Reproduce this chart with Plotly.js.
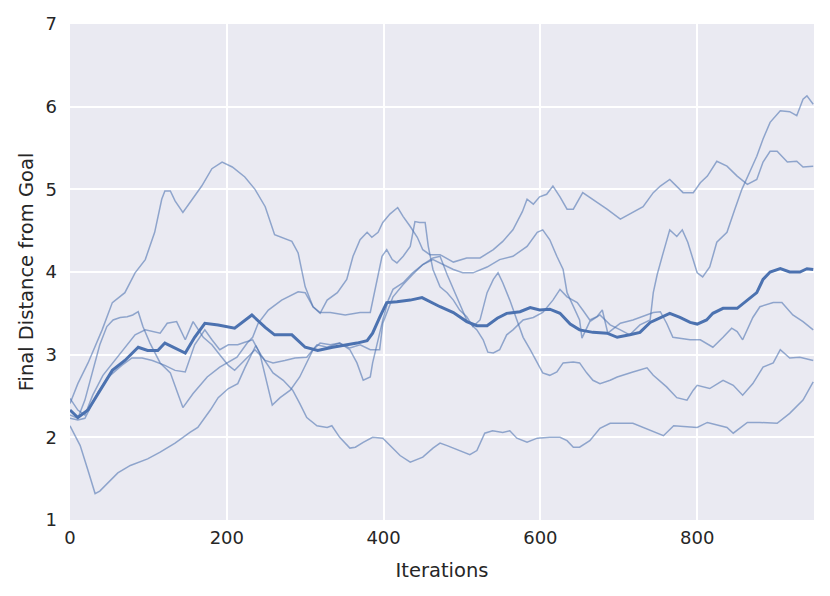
<!DOCTYPE html>
<html>
<head>
<meta charset="utf-8">
<script src="https://cdn.plot.ly/plotly-3.0.1.min.js"></script>
<style>html,body{margin:0;padding:0;background:#fff;}#chart{width:830px;height:596px;}</style>
</head>
<body>
<div id="chart"></div>
<script>
// Iteration (x) and final distance (y) for each run
const run1X = [0,13,23,32,38,51,61,77,99,115,134,153,163,179,189,202,214,223,232,237,242,259,272,284,293,302,315,328,334,344,357,364,374,386,399,412,421,434,450,463,472,481,497,510,519,529,539,552,561,570,583,596,612,625,634,642,650,663,676,689,718,740,757,770,800,813,838,846,864,880,902,918,935,948];
const run1Y = [2.14,1.90,1.60,1.32,1.35,1.48,1.57,1.66,1.74,1.82,1.93,2.06,2.12,2.33,2.48,2.59,2.65,2.84,3.02,3.11,3.02,2.78,2.69,2.57,2.41,2.24,2.14,2.12,2.14,2.00,1.87,1.88,1.94,2.00,1.99,1.87,1.78,1.70,1.76,1.87,1.93,1.90,1.84,1.79,1.84,2.05,2.08,2.06,2.08,1.99,1.94,1.99,2.00,2.00,1.96,1.88,1.88,1.96,2.11,2.17,2.17,2.08,2.02,2.14,2.12,2.18,2.12,2.05,2.18,2.18,2.17,2.29,2.45,2.67];

const run2X = [0,10,23,41,54,70,83,96,108,117,121,128,134,144,156,168,181,194,207,223,236,249,261,283,291,300,310,319,328,341,353,361,370,379,385,393,399,408,418,425,434,443,450,459,472,489,506,523,540,552,565,577,583,591,599,608,616,625,634,642,654,667,685,702,718,731,744,753,765,782,795,804,813,825,838,851,864,876,884,893,902,915,927,935,948];
const run2Y = [2.41,2.65,2.90,3.30,3.63,3.75,3.99,4.15,4.48,4.88,4.98,4.98,4.86,4.72,4.88,5.04,5.25,5.33,5.27,5.15,5.00,4.79,4.45,4.37,4.23,3.82,3.58,3.50,3.66,3.75,3.91,4.19,4.39,4.48,4.42,4.48,4.60,4.70,4.78,4.67,4.55,4.42,4.27,4.21,4.21,4.12,4.17,4.17,4.27,4.37,4.51,4.73,4.88,4.82,4.91,4.94,5.04,4.91,4.76,4.76,4.96,4.88,4.76,4.64,4.72,4.79,4.96,5.04,5.12,4.96,4.96,5.08,5.16,5.34,5.28,5.16,5.06,5.12,5.33,5.46,5.46,5.33,5.34,5.27,5.28];

const run3X = [0,10,19,29,42,57,70,83,96,115,124,136,147,157,170,181,191,202,210,223,236,249,259,274,287,302,315,328,344,357,366,374,383,386,392,399,406,412,425,437,450,463,489,501,514,532,548,565,583,596,603,612,621,629,634,642,650,653,663,676,689,702,714,727,740,744,749,756,765,774,781,788,800,807,816,825,838,848,857,867,876,884,893,906,918,927,935,940,948];
const run3Y = [2.47,2.33,2.27,2.51,2.75,2.93,3.08,3.24,3.30,3.26,3.38,3.40,3.18,3.40,3.21,3.12,3.00,2.87,2.81,2.93,3.06,2.93,2.90,2.93,2.96,2.97,3.12,3.09,3.14,3.06,2.90,2.69,2.73,2.90,3.14,3.42,3.66,3.79,3.87,3.99,4.09,4.15,4.03,3.99,3.99,4.06,4.15,4.19,4.31,4.48,4.51,4.39,4.19,4.03,3.75,3.58,3.42,3.20,3.40,3.48,3.36,3.30,3.24,3.36,3.42,3.75,3.97,4.21,4.51,4.43,4.51,4.36,3.99,3.94,4.06,4.36,4.48,4.76,5.00,5.21,5.40,5.61,5.81,5.95,5.94,5.89,6.09,6.13,6.03];

const run4X = [0,10,19,29,38,47,55,64,73,80,87,93,102,115,128,136,144,157,175,191,213,226,233,240,253,270,291,300,310,319,332,351,370,383,392,398,404,411,417,425,434,440,446,453,457,463,472,481,489,497,506,514,523,532,540,546,552,561,570,578,587,596,603,612,621,629,642,650,659,667,676,689,698,718,736,744,761,774,787,795,800,816,833,846,858,871,884,897,906,918,931,948];
const run4Y = [2.27,2.23,2.45,2.81,3.12,3.34,3.42,3.45,3.46,3.48,3.52,3.34,3.14,2.90,2.78,2.57,2.36,2.53,2.73,2.85,2.97,3.14,3.21,3.38,3.54,3.66,3.76,3.75,3.58,3.51,3.51,3.48,3.51,3.51,3.91,4.19,4.27,4.15,4.11,4.19,4.31,4.61,4.60,4.60,4.31,4.03,3.82,3.75,3.66,3.54,3.46,3.34,3.42,3.75,3.91,3.99,3.87,3.66,3.42,3.21,3.06,2.90,2.78,2.75,2.79,2.90,2.91,2.90,2.78,2.69,2.65,2.69,2.73,2.79,2.84,2.75,2.61,2.48,2.45,2.57,2.63,2.59,2.69,2.63,2.51,2.65,2.85,2.90,3.06,2.96,2.97,2.93];

const run5X = [0,10,19,36,48,66,79,92,105,121,134,147,159,172,181,191,202,214,223,233,242,250,258,268,281,293,302,310,319,332,344,357,370,383,395,399,412,425,437,450,463,472,481,489,497,506,519,527,533,540,548,557,565,578,591,603,616,625,634,647,654,663,672,679,686,702,718,727,744,753,761,769,791,804,820,833,844,851,858,871,880,897,908,922,935,948];
const run5Y = [2.23,2.21,2.23,2.55,2.72,2.87,2.96,2.96,2.93,2.87,2.81,2.79,3.12,3.30,3.18,3.06,3.12,3.12,3.15,3.18,3.02,2.69,2.39,2.48,2.57,2.73,2.90,3.06,3.14,3.12,3.14,3.08,3.12,3.06,3.06,3.38,3.70,3.85,3.97,4.09,4.17,4.19,3.97,3.79,3.60,3.42,3.30,3.18,3.03,3.02,3.06,3.24,3.30,3.42,3.45,3.51,3.66,3.79,3.70,3.63,3.54,3.42,3.46,3.54,3.26,3.38,3.42,3.45,3.51,3.52,3.38,3.21,3.18,3.18,3.09,3.21,3.32,3.28,3.18,3.45,3.58,3.63,3.63,3.48,3.40,3.30];

const meanX = [0,10,23,36,54,70,87,99,112,121,134,147,159,172,189,210,232,249,261,283,300,316,335,348,366,379,386,395,404,417,434,449,459,472,489,506,519,532,545,557,574,587,599,612,625,638,650,667,685,698,714,727,740,753,765,778,791,800,812,820,833,851,864,876,884,893,906,918,931,940,948];
const meanY = [2.33,2.24,2.33,2.53,2.81,2.93,3.09,3.05,3.05,3.14,3.08,3.02,3.21,3.38,3.36,3.32,3.48,3.33,3.24,3.24,3.09,3.05,3.09,3.11,3.14,3.17,3.26,3.45,3.63,3.64,3.66,3.69,3.64,3.58,3.51,3.40,3.35,3.35,3.44,3.50,3.52,3.57,3.54,3.55,3.50,3.37,3.30,3.27,3.26,3.21,3.24,3.27,3.39,3.45,3.50,3.45,3.39,3.37,3.42,3.50,3.56,3.56,3.66,3.75,3.91,4.00,4.04,4.00,4.00,4.04,4.03];

const xTicks = [0, 200, 400, 600, 800];
const yTicks = [1, 2, 3, 4, 5, 6, 7];

const runs = [[run1X, run1Y], [run2X, run2Y], [run3X, run3Y], [run4X, run4Y], [run5X, run5Y]];
const thin = {color: 'rgba(76,114,176,0.58)', width: 1.5};
const traces = runs.map(r => ({x: r[0], y: r[1], type: 'scatter', mode: 'lines', line: thin, hoverinfo: 'skip', showlegend: false}));
traces.push({x: meanX, y: meanY, type: 'scatter', mode: 'lines', line: {color: '#4C72B0', width: 3}, showlegend: false});

const fam = 'DejaVu Sans, sans-serif';
const ink = '#262626';
const layout = {
  width: 830, height: 596,
  margin: {l: 70, r: 16, t: 24, b: 76},
  paper_bgcolor: '#ffffff',
  plot_bgcolor: '#EAEAF2',
  showlegend: false,
  font: {family: fam, color: ink},
  xaxis: {
    range: [0, 949], tickvals: xTicks, ticktext: xTicks.map(String),
    showgrid: true, gridcolor: '#ffffff', gridwidth: 2,
    zeroline: false, showline: false, ticks: '',
    ticklabelstandoff: 5,
    tickfont: {family: fam, size: 18, color: ink},
    title: {text: 'Iterations', font: {family: fam, size: 19.5, color: ink}, standoff: 16}
  },
  yaxis: {
    range: [1, 7], tickvals: yTicks, ticktext: yTicks.map(String),
    showgrid: true, gridcolor: '#ffffff', gridwidth: 2,
    zeroline: false, showline: false, ticks: '',
    ticklabelstandoff: 12,
    tickfont: {family: fam, size: 18, color: ink},
    title: {text: 'Final Distance from Goal', font: {family: fam, size: 19.5, color: ink}, standoff: 6}
  }
};
Plotly.newPlot('chart', traces, layout, {staticPlot: true, displayModeBar: false});
</script>
</body>
</html>
